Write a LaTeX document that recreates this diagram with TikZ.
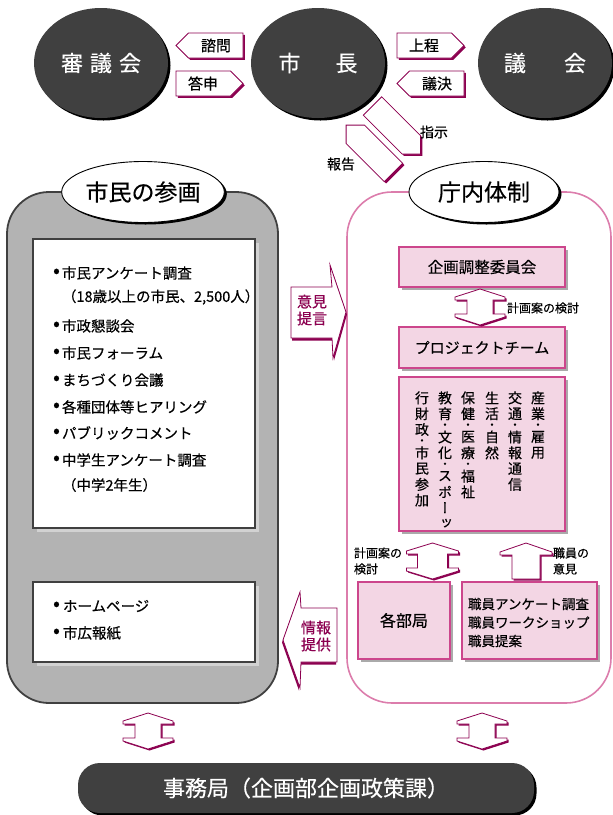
\documentclass[tikz,border=0pt]{standalone}
\usepackage{fontspec}
\setmainfont{Noto Sans CJK JP}[FakeBold=0.4]
\newfontfamily\vertfont{Noto Sans CJK JP}[RawFeature=+vert,FakeBold=0.4]
\usetikzlibrary{shapes.geometric,shadows}
\definecolor{magc}{RGB}{140,0,80}
\definecolor{pinkfill}{RGB}{243,214,228}
\definecolor{pinkdraw}{RGB}{204,70,140}
\definecolor{panelpink}{RGB}{220,125,172}
\definecolor{darkc}{RGB}{64,64,64}
\definecolor{panelgray}{RGB}{179,179,179}
\definecolor{boxshadow}{RGB}{210,210,210}
\definecolor{pinkshadow}{RGB}{170,170,170}
\newcommand\fs[1]{\fontsize{#1}{#1}\selectfont}
\newcommand\magarrow[3]{%
  \fill[magc,shift={#2},#1] #3;
  \filldraw[fill=white,draw=magc,line width=0.8pt,#1] #3;}
\def\vdotmark{・}
\newcommand\vcolumn[4]{%
  \xdef\vy{#3}%
  \foreach \ch [count=\i] in {#4}{%
    \ifx\ch\vdotmark
      \node[vdot] (#1-\i) at (#2,\vy+3.75) {•};
      \pgfmathsetmacro\ny{\vy+7.5}%
    \else
      \node[vchar] (#1-\i) at (#2,\vy+7.9) {\ch};
      \pgfmathsetmacro\ny{\vy+15.8}%
    \fi
    \xdef\vy{\ny}}}
\begin{document}
\begin{tikzpicture}[x=1pt,y=-1pt,
  every node/.style={inner sep=0pt,outer sep=0pt},
  bigcircle/.style={ellipse,fill=darkc,minimum width=134pt,minimum height=110pt,
    text=white,font=\fs{22},
    drop shadow={shadow xshift=2.5pt,shadow yshift=-2.5pt,fill=black,opacity=1}},
  lbl/.style={ellipse,draw=black,line width=0.9pt,fill=white,minimum width=150pt,
    minimum height=61pt,font=\fs{23},
    drop shadow={shadow xshift=2.5pt,shadow yshift=-2pt,fill=black,opacity=1}},
  wbox/.style={draw=darkc,line width=1.5pt,fill=white,
    drop shadow={shadow xshift=4pt,shadow yshift=-4pt,fill=boxshadow,opacity=1}},
  pbox/.style={draw=pinkdraw,line width=1.6pt,fill=pinkfill,
    drop shadow={shadow xshift=3pt,shadow yshift=-3pt,fill=pinkshadow,opacity=1}},
  item/.style={anchor=west,font=\fs{14.5}},
  bul/.style={font=\fs{20}},
  arrlbl/.style={font=\fs{15}},
  small/.style={anchor=west,align=left,font={\fontsize{12}{16}\selectfont}},
  maglbl/.style={align=center,text=magc,font={\fontsize{15}{17}\selectfont}},
  vchar/.style={font={\vertfont\fs{14}}},
  vdot/.style={font=\fs{9}}
]
\useasboundingbox (0,0) rectangle (613,815);

% ---------- top row ----------
\node[bigcircle] (shingi) at (101,63) {審\hspace{7pt}議\hspace{7pt}会};
\node[bigcircle] (mayor) at (318,63) {市\hspace{35pt}長};
\node[bigcircle] (gikai) at (545,63) {議\hspace{38pt}会};

\magarrow{}{(1.8,1.8)}{(176,45.5) -- (188.5,33) -- (243,33) -- (243,58) -- (188.5,58) -- cycle}
\node[arrlbl] (shimon) at (216,45.5) {諮問};
\magarrow{}{(1.8,1.8)}{(176,71) -- (230.5,71) -- (243,83.5) -- (230.5,96) -- (176,96) -- cycle}
\node[arrlbl] (toshin) at (203,83.5) {答申};
\magarrow{}{(1.8,1.8)}{(397,33) -- (451.5,33) -- (464,45.5) -- (451.5,58) -- (397,58) -- cycle}
\node[arrlbl] (jotei) at (424,45.5) {上程};
\magarrow{}{(1.8,1.8)}{(397,83.5) -- (409.5,71) -- (464,71) -- (464,96) -- (409.5,96) -- cycle}
\node[arrlbl] (giketsu) at (437,83.5) {議決};

\magarrow{shift={(372.5,106)},rotate=-45}{(1.8,1.8)}{(0,-13) -- (55,-13) -- (68,0) -- (55,13) -- (0,13) -- cycle}
\magarrow{shift={(393.5,172.5)},rotate=135}{(1.8,1.8)}{(0,-13) -- (54,-13) -- (67,0) -- (54,13) -- (0,13) -- cycle}
\node[font=\fs{14}] (shiji) at (434,132) {指示};
\node[font=\fs{14}] (hokoku) at (341,164) {報告};

% ---------- panels ----------
\draw[fill=panelgray,draw=darkc,line width=1.8pt,rounded corners=42pt] (7,192) rectangle (278,703);
\draw[draw=panelpink,line width=1.6pt,rounded corners=45pt] (347,192) rectangle (611,703);

\node[lbl] (shimin) at (143,192) {市民の参画};
\node[lbl] (chonai) at (484,192) {庁内体制};

% ---------- left panel content ----------
\node[wbox,minimum width=222pt,minimum height=289pt] (wb1) at (144,383.5) {};
\node[bul] (b1) at (56.5,273) {•};
\node[item] (t1) at (62,273) {市民アンケート調査};
\node[item] (t1b) at (62,297) {（18歳以上の市民、2,500人）};
\node[bul] (b2) at (56.5,326) {•};
\node[item] (t2) at (62,326) {市政懇談会};
\node[bul] (b3) at (56.5,353) {•};
\node[item] (t3) at (62,353) {市民フォーラム};
\node[bul] (b4) at (56.5,380) {•};
\node[item] (t4) at (62,380) {まちづくり会議};
\node[bul] (b5) at (56.5,407) {•};
\node[item] (t5) at (62,407) {各種団体等ヒアリング};
\node[bul] (b6) at (56.5,433) {•};
\node[item] (t6) at (62,433) {パブリックコメント};
\node[bul] (b7) at (56.5,460) {•};
\node[item] (t7) at (62,460) {中学生アンケート調査};
\node[item] (t7b) at (62,485) {（中学2年生）};

\node[wbox,minimum width=222pt,minimum height=80pt] (wb2) at (144,622) {};
\node[bul] (b8) at (56.5,606) {•};
\node[item] (t8) at (63,606) {ホームページ};
\node[bul] (b9) at (56.5,633) {•};
\node[item] (t9) at (63,633) {市広報紙};

% ---------- middle arrows ----------
\magarrow{}{(1,2.5)}{(291,287) -- (332,287) -- (330,265) -- (346,312) -- (333,358) -- (332,338) -- (291,338) -- cycle}
\node[maglbl] (iken) at (312,310) {意見\\提言};
\magarrow{}{(-1,2.5)}{(337,608) -- (301,608) -- (300,592) -- (283,640) -- (300,688) -- (301,662) -- (337,662) -- cycle}
\node[maglbl] (joho) at (316,636) {情報\\提供};

% ---------- right panel content ----------
\node[pbox,minimum width=166pt,minimum height=40pt,font=\fs{15.5}] (kikaku) at (482,267) {企画調整委員会};
\node[pbox,minimum width=166pt,minimum height=41pt,font=\fs{15}] (pteam) at (482,347.5) {プロジェクトチーム};
\node[pbox,minimum width=166pt,minimum height=154pt] (bukai) at (482,454) {};
\vcolumn{ca}{538}{390}{産,業,・,雇,用}
\vcolumn{cb}{515}{390}{交,通,・,情,報,通,信}
\vcolumn{cc}{492}{390}{生,活,・,自,然}
\vcolumn{cd}{468}{390}{保,健,・,医,療,・,福,祉}
\vcolumn{ce}{445}{390}{教,育,・,文,化,・,ス,ポ,ー,ッ}
\vcolumn{cf}{422}{390}{行,財,政,・,市,民,参,加}

\node[pbox,minimum width=92pt,minimum height=77pt,font=\fs{16}] (kakubu) at (404,620.5) {各部局};
\node[pbox,minimum width=135pt,minimum height=77pt] (shokuin) at (529.5,620.5) {};
\node[anchor=west,align=left,font={\fontsize{13.5}{18.5}\selectfont}] (shokutxt) at (468,622.5) {職員アンケート調査\\職員ワークショップ\\職員提案};

% double arrow kikaku <-> pteam
\magarrow{shift={(480,289)}}{(1.5,1.5)}{(0,0) -- (25,8) -- (25,11) -- (13,11) -- (13,25) -- (25,25) -- (25,28) -- (0,36) -- (-25,28) -- (-25,25) -- (-13,25) -- (-13,11) -- (-25,11) -- (-25,8) -- cycle}
\node[small] (kento1) at (507,308) {計画案の検討};

% double arrow bukai <-> kakubu
\magarrow{shift={(432.5,543)}}{(1.5,1.5)}{(0,0) -- (26,8) -- (26,11) -- (15,11) -- (15,25) -- (26,25) -- (26,28) -- (0,36) -- (-26,28) -- (-26,25) -- (-15,25) -- (-15,11) -- (-26,11) -- (-26,8) -- cycle}
\node[small] (kento2) at (354,561) {計画案の\\検討};

% up arrow shokuin -> bukai
\magarrow{shift={(526,543)}}{(1.5,1.5)}{(0,0) -- (26,9) -- (26,12) -- (14,12) -- (14,36) -- (-14,36) -- (-14,12) -- (-26,12) -- (-26,9) -- cycle}
\node[small] (iken2) at (553,561) {職員の\\意見};

% ---------- bottom ----------
\magarrow{shift={(148,713)}}{(1.5,1.5)}{(0,0) -- (25,8) -- (25,11) -- (13,11) -- (13,25) -- (25,25) -- (25,28) -- (0,36) -- (-25,28) -- (-25,25) -- (-13,25) -- (-13,11) -- (-25,11) -- (-25,8) -- cycle}
\magarrow{shift={(482,713)}}{(1.5,1.5)}{(0,0) -- (25,8) -- (25,11) -- (13,11) -- (13,25) -- (25,25) -- (25,28) -- (0,36) -- (-25,28) -- (-25,25) -- (-13,25) -- (-13,11) -- (-25,11) -- (-25,8) -- cycle}

\node[rounded corners=22pt,fill=darkc,minimum width=456pt,minimum height=50pt,text=white,font=\fs{22},
  drop shadow={shadow xshift=2.5pt,shadow yshift=-2.5pt,fill=black,opacity=1}] (jimu) at (306,788) {事務局（企画部企画政策課）};
\end{tikzpicture}
\end{document}
